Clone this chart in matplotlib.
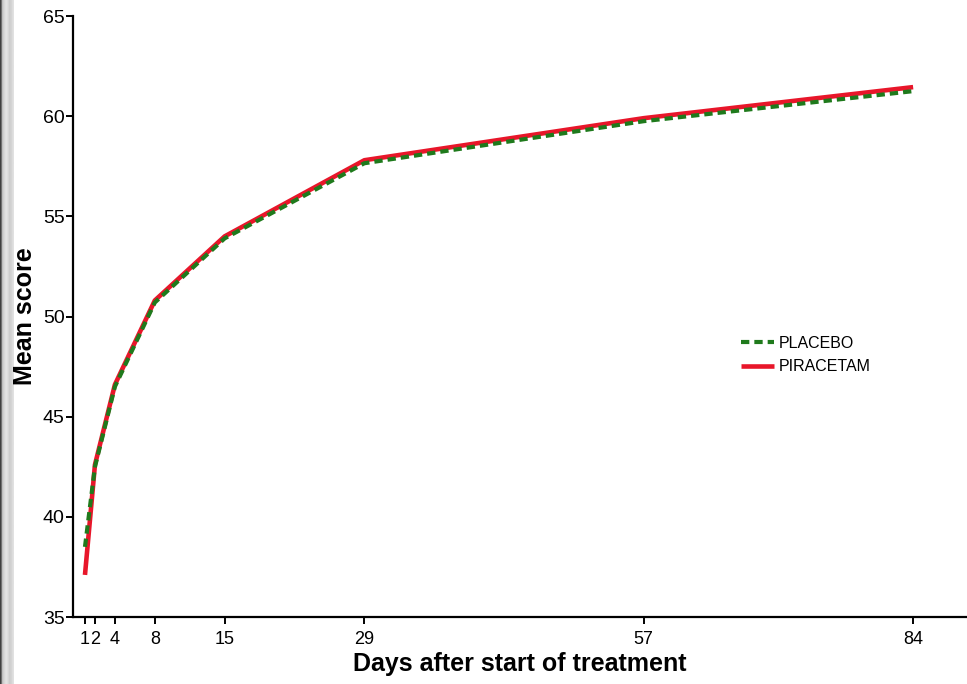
import matplotlib
matplotlib.use("Agg")
import matplotlib.pyplot as plt
import numpy as np

plt.rcParams['font.family'] = ['Liberation Sans', 'DejaVu Sans']

# mean score per visit day
days = [1, 2, 4, 8, 15, 29, 57, 84]
placebo = [38.5, 42.5, 46.5, 50.7, 53.9, 57.65, 59.75, 61.25]
piracetam = [37.1, 42.6, 46.6, 50.8, 54.0, 57.8, 59.9, 61.45]
tick_days = [1, 2, 4, 8, 15, 29, 57, 84]
tick_scores = [35, 40, 45, 50, 55, 60, 65]

fig = plt.figure(figsize=(9.67, 6.84), dpi=100)
W, H = 967, 684

# grey strip down the left edge
strip = fig.add_axes([0, 0, 14 / W, 1])
shade = np.array([[0.25, 0.78, 0.84, 0.90, 0.86, 0.80, 0.83, 0.88]])
strip.imshow(shade, cmap='gray', vmin=0, vmax=1, aspect='auto',
             interpolation='bilinear')
strip.set_axis_off()

left, right, top, bottom = 73, 967, 16, 617
ax = fig.add_axes([left / W, 1 - bottom / H, (right - left) / W,
                   (bottom - top) / H])

ax.plot(days, piracetam, color='#e8162a', lw=3.3, solid_capstyle='butt',
        label='PIRACETAM', zorder=3)
ax.plot(days, placebo, color='#1f7a1c', lw=3.0, dashes=(2.0, 1.2),
        label='PLACEBO', zorder=4)

ax.set_xlim(-0.2, 89.4)
ax.set_ylim(35, 65)
ax.set_xticks(tick_days)
ax.set_xticklabels([str(d) for d in tick_days], fontsize=13)
ax.set_yticks(tick_scores)
ax.set_yticklabels([str(s) for s in tick_scores], fontsize=14)
ax.tick_params(axis='x', direction='out', length=5, width=1.4, pad=5)
ax.tick_params(axis='y', direction='out', length=5, width=1.4, pad=1)

for side in ('top', 'right'):
    ax.spines[side].set_visible(False)
for side in ('left', 'bottom'):
    ax.spines[side].set_linewidth(1.6)

ax.set_xlabel('Days after start of treatment', fontsize=18,
              fontweight='bold', labelpad=3)
ax.set_ylabel('Mean score', fontsize=18, fontweight='bold', labelpad=4)

handles, labels = ax.get_legend_handles_labels()
ax.legend(handles[::-1], labels[::-1], loc='center left',
          bbox_to_anchor=(0.747, 0.436), frameon=False, fontsize=11.5,
          handlelength=2.1, handletextpad=0.25, labelspacing=0.55,
          borderpad=0, borderaxespad=0)

fig.savefig('out.png', dpi=100)
